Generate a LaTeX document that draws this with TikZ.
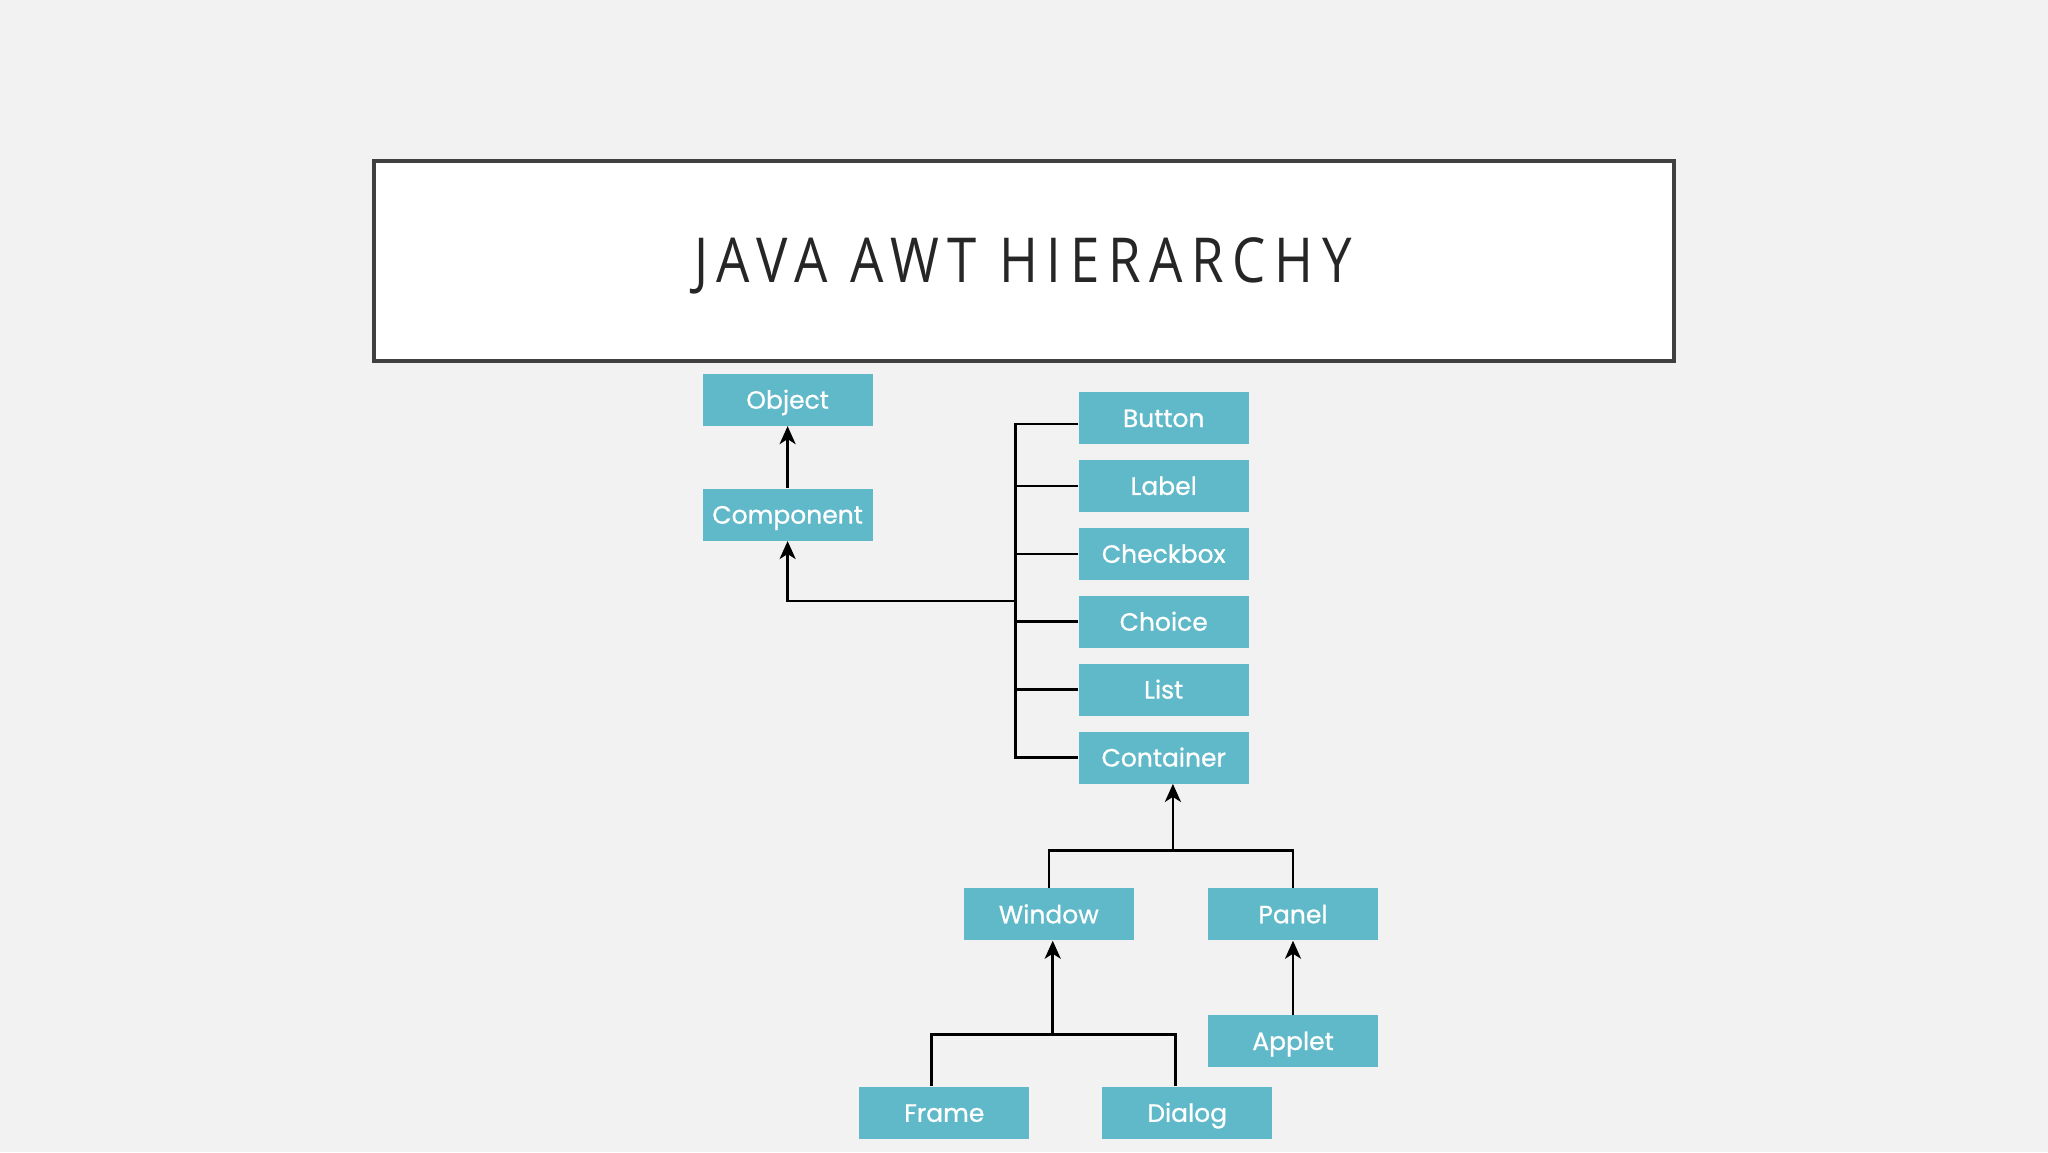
\documentclass[tikz,border=0pt]{standalone}
\usepackage{fontspec}
\usetikzlibrary{arrows.meta,positioning,calc}
\newfontfamily\titlefont[FakeStretch=0.85,LetterSpace=14]{Open Sans}
\newfontfamily\boxfont[FakeBold=0.8]{Poppins}
\definecolor{AWT-BG}{RGB}{242, 242, 242}
\definecolor{AWT-TEAL}{RGB}{96, 185, 201}
\definecolor{AWT-FRAME}{RGB}{64, 64, 64}
\definecolor{AWT-TEXT}{RGB}{38, 38, 38}

\begin{document}
\begin{tikzpicture}[x=0.5pt, y=-0.5pt,
    cls/.style={fill=AWT-TEAL, minimum width=85pt, minimum height=26pt,
      inner sep=0pt, text height=10pt, text depth=1pt, text=white,
      font=\boxfont\fontsize{12.5}{14}\selectfont},
    link/.style={draw=black, line width=1.3pt},
    arrow/.style={link, -{Stealth[length=9pt,width=8pt,inset=2.5pt]}}]
  % Slide background
  \fill[AWT-BG] (0,0) rectangle (2048,1152);
  \useasboundingbox (0,0) rectangle (2048,1152);

  % Title box
  \draw[fill=white, draw=AWT-FRAME, line width=2.2pt] (374,161) rectangle (1674,361);
  \node[text=AWT-TEXT, anchor=base, font=\titlefont\fontsize{31}{38}\selectfont] (title) at (1023,282) {JAVA AWT HIERARCHY};

  % Root classes
  \node[cls] (object) at (787.6,399.7) {Object};
  \node[cls] (component) at (787.6,514.6) {Component};

  % Components
  \node[cls] (button) at (1163.7,418.0) {Button};
  \node[cls] (label) at (1163.7,485.9) {Label};
  \node[cls] (checkbox) at (1163.7,553.8) {Checkbox};
  \node[cls] (choice) at (1163.7,621.7) {Choice};
  \node[cls] (list) at (1163.7,689.6) {List};
  \node[cls] (container) at (1163.7,757.5) {Container};

  % Containers
  \node[cls] (window) at (1048.8,914.3) {Window};
  \node[cls] (panel) at (1293.0,914.3) {Panel};
  \node[cls] (applet) at (1293.0,1041.0) {Applet};
  \node[cls] (frame) at (944.3,1112.8) {Frame};
  \node[cls] (dialog) at (1187.2,1112.8) {Dialog};

  % Component -> Object
  \draw[arrow] (component.north) -- (object.south);

  % Bus of the components
  \coordinate (join) at (1016,600.8);
  \draw[link] ([yshift=-3pt]button.west) -- ++(-63,0) |- (container.west);
  \foreach \c in {label,checkbox,choice,list}
    \draw[link] (\c.west) -- ++(-63,0);
  \draw[arrow] (join) -| (component.south);

  % Window, Panel -> Container
  \coordinate (cjoin) at (1172.9,850.3);
  \draw[link] (window.north) |- (cjoin) -| (panel.north);
  \draw[arrow] (cjoin) -- (cjoin |- container.south);

  % Frame, Dialog -> Window
  \coordinate (wjoin) at (1052.7,1034.4);
  \draw[link] ([xshift=-6.5pt]frame.north) |- (wjoin) -| ([xshift=-6pt]dialog.north);
  \draw[arrow] (wjoin) -- (wjoin |- window.south);

  % Applet -> Panel
  \draw[arrow] (applet.north) -- (panel.south);
\end{tikzpicture}
\end{document}
